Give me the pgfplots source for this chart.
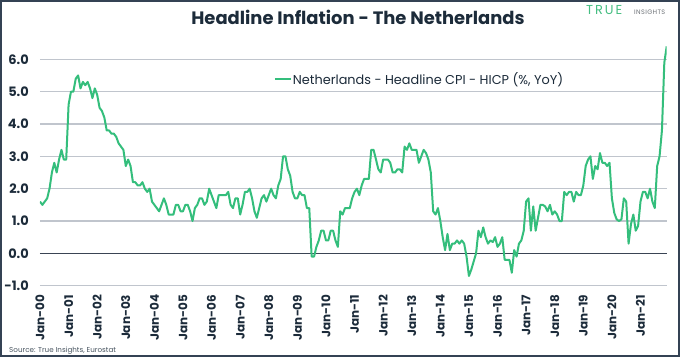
\documentclass[border=0pt]{standalone}
\usepackage{fontspec}
\setmainfont{Poppins}
\usepackage{pgfplots}
\usepackage{pgfplotstable}
\pgfplotsset{compat=1.18}
\definecolor{navy}{RGB}{28,43,58}
\definecolor{lineg}{RGB}{52,190,124}
\definecolor{gridg}{RGB}{192,197,205}
\definecolor{zerol}{RGB}{58,68,84}
\definecolor{frame}{RGB}{52,66,84}
\definecolor{logog}{RGB}{70,190,130}
\definecolor{logogray}{RGB}{110,115,120}

\pgfplotstableread[row sep=\\]{
v\\
1.6\\1.5\\1.6\\1.7\\2.0\\2.5\\2.8\\2.5\\2.9\\3.2\\2.9\\2.9\\
4.6\\5.0\\5.0\\5.4\\5.5\\5.1\\5.3\\5.2\\5.3\\5.1\\4.8\\5.1\\
4.9\\4.5\\4.4\\4.2\\3.8\\3.8\\3.7\\3.7\\3.6\\3.4\\3.3\\3.2\\
2.7\\2.9\\2.7\\2.2\\2.2\\2.1\\2.1\\2.2\\2.0\\1.9\\2.0\\1.6\\
1.5\\1.4\\1.3\\1.5\\1.7\\1.5\\1.2\\1.2\\1.2\\1.5\\1.5\\1.3\\
1.3\\1.5\\1.5\\1.3\\1.0\\1.4\\1.5\\1.7\\1.7\\1.5\\1.6\\2.0\\
1.8\\1.6\\1.4\\1.8\\1.8\\1.8\\1.8\\1.9\\1.5\\1.4\\1.7\\1.7\\
1.2\\1.5\\1.9\\1.9\\2.0\\1.7\\1.3\\1.1\\1.4\\1.7\\1.8\\1.6\\
1.8\\2.0\\1.8\\1.7\\2.1\\2.3\\3.0\\3.0\\2.6\\2.4\\1.9\\1.7\\
1.7\\1.9\\1.8\\1.8\\1.4\\1.4\\-0.1\\-0.1\\0.2\\0.4\\0.7\\0.7\\
0.4\\0.4\\0.7\\0.7\\0.4\\0.2\\1.3\\1.2\\1.4\\1.4\\1.4\\1.7\\
1.9\\2.0\\1.8\\2.1\\2.3\\2.3\\2.3\\3.2\\3.2\\2.9\\2.6\\2.5\\
2.9\\2.9\\2.9\\2.8\\2.5\\2.5\\2.6\\2.6\\2.5\\3.3\\3.2\\3.4\\
3.2\\3.2\\3.2\\2.8\\3.0\\3.2\\3.1\\2.9\\2.5\\1.3\\1.2\\1.4\\
1.0\\0.5\\0.1\\0.6\\0.1\\0.3\\0.3\\0.4\\0.3\\0.4\\0.3\\-0.1\\
-0.7\\-0.5\\-0.25\\0.0\\0.7\\0.5\\0.8\\0.5\\0.3\\0.4\\0.35\\0.5\\
0.2\\0.3\\0.5\\-0.2\\-0.2\\-0.2\\-0.6\\0.1\\-0.1\\0.3\\0.4\\0.7\\
1.6\\1.7\\0.7\\1.45\\0.7\\1.1\\1.5\\1.5\\1.45\\1.3\\1.5\\1.2\\
1.3\\1.2\\1.0\\1.0\\1.9\\1.8\\1.9\\1.9\\1.6\\1.9\\1.8\\1.8\\
2.1\\2.7\\2.9\\3.0\\2.3\\2.7\\2.6\\3.1\\2.8\\2.8\\2.7\\2.8\\
1.7\\1.25\\1.05\\1.0\\1.05\\1.7\\1.6\\0.3\\0.9\\1.2\\0.7\\0.85\\
1.6\\1.9\\1.9\\1.7\\2.0\\1.6\\1.4\\2.7\\3.0\\3.8\\5.9\\6.4\\
}\nldata

\begin{document}
\begin{tikzpicture}
\useasboundingbox (0,0) rectangle (680bp,357bp);
\fill[white] (0,0) rectangle (680bp,357bp);
\begin{axis}[
  at={(40bp,71.3bp)}, anchor=south west,
  scale only axis, width=626.7bp, height=242.6bp,
  xmin=0, xmax=263, ymin=-1, ymax=6.5,
  axis x line*=bottom, axis y line*=left,
  axis line style={draw=none},
  major tick length=0pt,
  ytick={-1,0,...,6},
  yticklabel={\pgfmathprintnumber[fixed,fixed zerofill,precision=1]{\tick}},
  /pgf/number format/assume math mode=true,
  ymajorgrids, grid style={gridg, line width=1.1bp},
  extra y ticks={0}, extra y tick labels={},
  extra y tick style={grid style={zerol, line width=1.1bp}},
  xtick={0,12,...,252},
  xticklabels={Jan-00,Jan-01,Jan-02,Jan-03,Jan-04,Jan-05,Jan-06,Jan-07,Jan-08,Jan-09,Jan-10,Jan-11,Jan-12,Jan-13,Jan-14,Jan-15,Jan-16,Jan-17,Jan-18,Jan-19,Jan-20,Jan-21},
  tick label style={text=navy},
  xticklabel style={rotate=90, anchor=east, inner sep=0pt, font=\bfseries\fontsize{12}{12}\selectfont},
  xticklabel shift=9bp,
  yticklabel style={anchor=east, inner sep=0pt, font=\bfseries\fontsize{13}{13}\selectfont},
  yticklabel shift=11bp,
  legend style={at={(0.373,0.852)}, anchor=west, draw=none, fill=none,
    inner sep=0pt, font=\fontsize{12.9}{14}\selectfont, text=navy,
    nodes={inner sep=1bp}},
  legend image code/.code={\draw[#1] (0bp,0bp) -- (16bp,0bp);},
]
\addplot[lineg, line width=2bp, line join=round] table[x expr=\coordindex, y=v] {\nldata};
\addlegendentry{Netherlands - Headline CPI - HICP (\%, YoY)}
\end{axis}
\node[anchor=base, text=navy, font=\bfseries\fontsize{18}{18}\selectfont] at (358bp,332bp) {Headline Inflation - The Netherlands};
\node[anchor=base west, inner sep=0pt, text=logog, font=\fontsize{13}{13}\selectfont] at (586bp,342bp) {\addfontfeature{LetterSpace=15}TRUE};
\node[anchor=base west, inner sep=0pt, text=logogray, font=\fontsize{6.5}{7}\selectfont] at (634bp,342bp) {\addfontfeature{LetterSpace=6}INSIGHTS};
\node[anchor=base west, inner sep=0pt, text=navy!80, font=\fontsize{7.2}{8}\selectfont] at (9bp,5bp) {Source: True Insights, Eurostat};
\draw[frame, line width=2bp] (1bp,1bp) rectangle (679bp,356bp);
\end{tikzpicture}
\end{document}
